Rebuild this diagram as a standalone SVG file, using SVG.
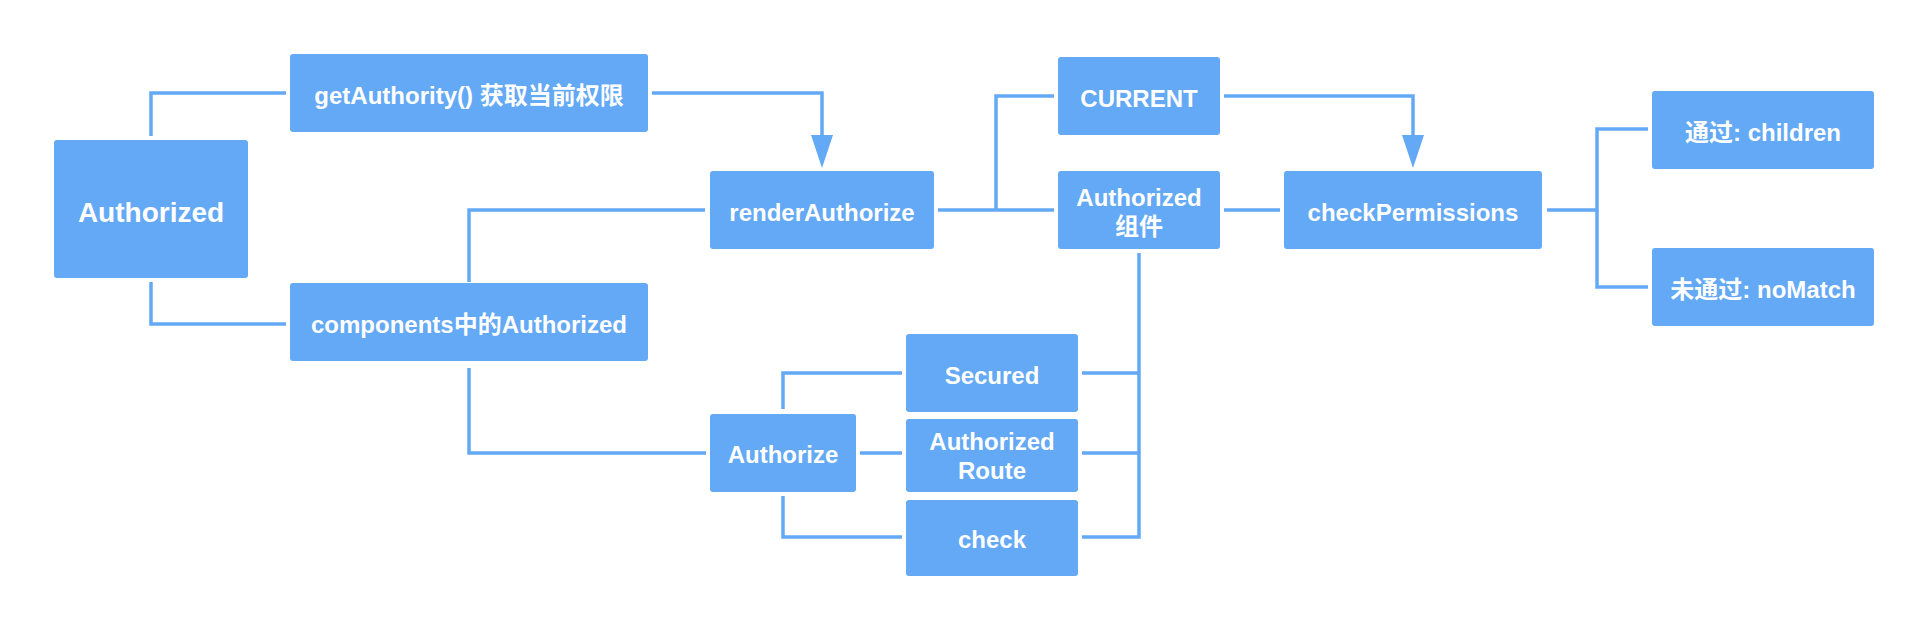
<svg xmlns="http://www.w3.org/2000/svg" width="1928" height="630" viewBox="0 0 1928 630">
<style>
.box{fill:#64a9f5;}
.t{fill:#ffffff;font-family:"Liberation Sans","Noto Sans CJK SC",sans-serif;font-weight:bold;font-size:24px;text-anchor:middle;}
.big{font-size:28px;}
.c{fill:none;stroke:#64a9f5;stroke-width:3.5;}
</style>
<defs>
<marker id="arr" markerUnits="userSpaceOnUse" markerWidth="34" markerHeight="22" refX="25" refY="11" orient="auto">
<path d="M0,0 L33,11 L0,22 z" fill="#64a9f5"/>
</marker>
</defs>
<rect width="1928" height="630" fill="#ffffff"/>
<g id="connectors">
<path class="c" d="M151,136 V93 H286"/>
<path class="c" d="M151,282 V324 H286"/>
<path class="c" d="M652,93 H822 V160" marker-end="url(#arr)"/>
<path class="c" d="M469,282 V210 H705"/>
<path class="c" d="M938,210 H1054"/>
<path class="c" d="M996,210 V96 H1054"/>
<path class="c" d="M1224,96 H1413 V160" marker-end="url(#arr)"/>
<path class="c" d="M1224,210 H1280"/>
<path class="c" d="M1547,210 H1597 V129 H1648"/>
<path class="c" d="M1597,210 V287 H1648"/>
<path class="c" d="M469,368 V453 H706"/>
<path class="c" d="M783,409 V373 H902"/>
<path class="c" d="M860,453 H902"/>
<path class="c" d="M783,496 V537 H902"/>
<path class="c" d="M1082,373 H1139"/>
<path class="c" d="M1139,253 V453"/>
<path class="c" d="M1082,453 H1140"/>
<path class="c" d="M1082,537 H1139 V452"/>
</g>
<g id="n-authorized"><rect class="box" x="54" y="140" width="194" height="138" rx="3"/><text class="t big" x="151" y="222">Authorized</text></g>
<g id="n-getauthority"><rect class="box" x="290" y="54" width="358" height="78" rx="3"/><text class="t" x="469" y="104">getAuthority() 获取当前权限</text></g>
<g id="n-components"><rect class="box" x="290" y="283" width="358" height="78" rx="3"/><text class="t" x="469" y="333">components中的Authorized</text></g>
<g id="n-renderauthorize"><rect class="box" x="710" y="171" width="224" height="78" rx="3"/><text class="t" x="822" y="221">renderAuthorize</text></g>
<g id="n-current"><rect class="box" x="1058" y="57" width="162" height="78" rx="3"/><text class="t" x="1139" y="107">CURRENT</text></g>
<g id="n-authcomp"><rect class="box" x="1058" y="171" width="162" height="78" rx="3"/><text class="t" x="1139" y="206">Authorized</text><text class="t" x="1139" y="235">组件</text></g>
<g id="n-checkpermissions"><rect class="box" x="1284" y="171" width="258" height="78" rx="3"/><text class="t" x="1413" y="221">checkPermissions</text></g>
<g id="n-children"><rect class="box" x="1652" y="91" width="222" height="78" rx="3"/><text class="t" x="1763" y="141">通过: children</text></g>
<g id="n-nomatch"><rect class="box" x="1652" y="248" width="222" height="78" rx="3"/><text class="t" x="1763" y="298">未通过: noMatch</text></g>
<g id="n-authorize"><rect class="box" x="710" y="414" width="146" height="78" rx="3"/><text class="t" x="783" y="463">Authorize</text></g>
<g id="n-secured"><rect class="box" x="906" y="334" width="172" height="78" rx="3"/><text class="t" x="992" y="384">Secured</text></g>
<g id="n-authroute"><rect class="box" x="906" y="419" width="172" height="73" rx="3"/><text class="t" x="992" y="450">Authorized</text><text class="t" x="992" y="479">Route</text></g>
<g id="n-check"><rect class="box" x="906" y="500" width="172" height="76" rx="3"/><text class="t" x="992" y="548">check</text></g>
</svg>
